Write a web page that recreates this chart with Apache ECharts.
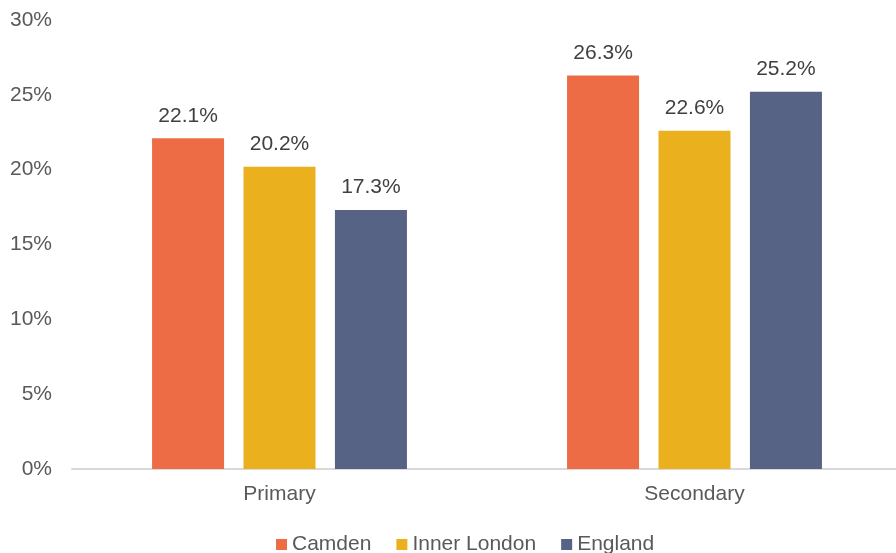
<!DOCTYPE html>
<html>
<head>
<meta charset="utf-8">
<script src="https://cdn.jsdelivr.net/npm/echarts@6/dist/echarts.min.js"></script>
<style>
  html, body { margin: 0; padding: 0; background: #fff; }
  #chart { width: 896px; height: 553px; }
</style>
</head>
<body>
<div id="chart"></div>
<script>
var categories = ['Primary', 'Secondary'];
var seriesNames = ['Camden', 'Inner London', 'England'];
var camden = [22.1, 26.3];
var innerLondon = [20.2, 22.6];
var england = [17.3, 25.2];
var colors = ['#ED6B45', '#EBB01E', '#576384'];

var font = 'Liberation Sans, Arial, sans-serif';

function bar(name, data, color) {
  return {
    name: name,
    type: 'bar',
    data: data,
    barWidth: 72,
    barGap: '27%',
    itemStyle: { color: color },
    label: {
      show: true,
      position: 'top',
      distance: 12,
      formatter: function (p) { return p.value.toFixed(1) + '%'; },
      color: '#404040',
      fontSize: 21,
      fontFamily: font
    }
  };
}

var myChart = echarts.init(document.getElementById('chart'));
myChart.setOption({
  animation: false,
  backgroundColor: '#fff',
  textStyle: { fontFamily: font },
  grid: { left: 72, right: -6, top: 20, bottom: 84, containLabel: false, outerBoundsMode: 'none' },
  legend: {
    bottom: -7,
    left: 271,
    itemWidth: 11,
    itemHeight: 11,
    itemGap: 25,
    icon: 'rect',
    textStyle: { color: '#595959', fontSize: 21, fontFamily: font },
    data: seriesNames
  },
  xAxis: {
    type: 'category',
    data: categories,
    axisLine: { lineStyle: { color: '#d9d9d9', width: 2 } },
    axisTick: { show: false },
    axisLabel: { color: '#595959', fontSize: 21, margin: 15, fontFamily: font }
  },
  yAxis: {
    type: 'value',
    min: 0,
    max: 30,
    interval: 5,
    splitLine: { show: false },
    axisLine: { show: false },
    axisTick: { show: false },
    axisLabel: { formatter: '{value}%', color: '#595959', fontSize: 21, margin: 20, fontFamily: font }
  },
  series: [
    bar(seriesNames[0], camden, colors[0]),
    bar(seriesNames[1], innerLondon, colors[1]),
    bar(seriesNames[2], england, colors[2])
  ]
});
</script>
</body>
</html>
